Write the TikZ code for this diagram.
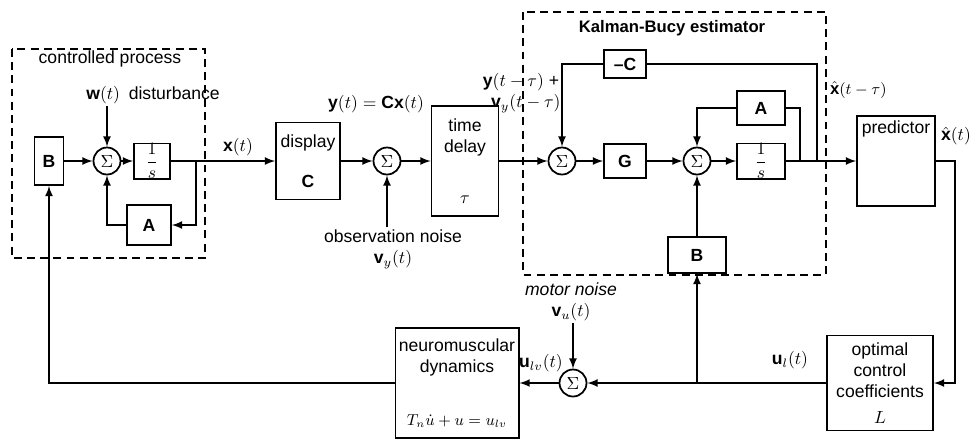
\documentclass[tikz,border=0pt]{standalone}
\usepackage{fontspec}
\setmainfont{Liberation Sans}
\usetikzlibrary{shapes.geometric, positioning, arrows, calc}

\begin{document}
\begin{tikzpicture}[
    x=0.02cm, y=-0.02cm,
    every node/.style={font=\fontsize{10}{12}\selectfont, align=center, inner sep=1pt},
    block/.style={
        rectangle, draw, line width=1pt, inner sep=2pt
    },
    sumnode/.style={
        circle, draw, line width=1pt, minimum size=0.54cm, inner sep=0pt
    },
    arrow/.style={->, >=latex, line width=1pt},
    wire/.style={line width=1pt},
    dashbox/.style={draw, line width=0.8pt, dash pattern=on 4.5pt off 3pt},
]
\useasboundingbox (0,0) rectangle (973,441);

% === CONTROLLED PROCESS ===
\draw[dashbox] (12,49) rectangle (205,258);
\node (proclab) at (110,59) {controlled process};
\node (wlab) at (153,95) {$\mathbf{w}(t)$\enspace disturbance};

\node[block, minimum width=0.58cm, minimum height=0.96cm] (Bp) at (49,161) {\textbf{B}};
\node[sumnode] (sum1) at (107,161) {$\Sigma$};
\node[block, minimum width=0.72cm, minimum height=0.64cm, inner sep=0pt] (invp) at (152,161) {$\displaystyle\frac{1}{s}$};
\node[block, minimum width=0.88cm, minimum height=0.8cm] (Ap) at (149,225) {\textbf{A}};
\coordinate (tapP) at (196,161);

% === DISPLAY AND DELAY ===
\node (xlab) at (238,147) {$\mathbf{x}(t)$};
\node[block, minimum width=1.28cm, minimum height=1.54cm] (disp) at (308,161) {display\\[11pt]\textbf{C}};
\node (ylab) at (376,104) {$\mathbf{y}(t) = \mathbf{C}\mathbf{x}(t)$};
\node[sumnode] (sum2) at (387,161) {$\Sigma$};
\node (obslab) at (393,249) {observation noise\\$\mathbf{v}_y(t)$};
\node[block, minimum width=1.34cm, minimum height=2.2cm] (delay) at (465,161) {time\\delay\\[17pt]$\tau$};
\node (yvlab) at (521,93) {$\mathbf{y}(t-\tau)$ +\\\ \ $\mathbf{v}_y(t-\tau)$};

% === KALMAN-BUCY ESTIMATOR ===
\draw[dashbox] (523,12) rectangle (826,275);
\node[font=\fontsize{9.5}{11}\selectfont\bfseries] (kblab) at (672,28) {Kalman-Bucy estimator};

\node[sumnode] (sum3) at (562,161) {$\Sigma$};
\node[block, minimum width=0.84cm, minimum height=0.56cm] (negC) at (625,64) {\textbf{--C}};
\node[block, minimum width=0.84cm, minimum height=0.68cm] (Gk) at (625,161) {\textbf{G}};
\node[sumnode] (sum4) at (697,161) {$\Sigma$};
\node[block, minimum width=0.96cm, minimum height=0.68cm] (Ak) at (761,108) {\textbf{A}};
\node[block, minimum width=0.96cm, minimum height=0.7cm, inner sep=0pt] (invk) at (761,161) {$\displaystyle\frac{1}{s}$};
\node[block, minimum width=1.16cm, minimum height=0.72cm] (Bk) at (697,255) {\textbf{B}};
\coordinate (tapA) at (800,161);
\coordinate (tapC) at (817,161);

% === PREDICTOR ===
\node[anchor=west, font=\fontsize{9.5}{11}\selectfont] (xhdlab) at (828,90) {$\hat{\mathbf{x}}(t-\tau)$};
\node[block, minimum width=1.56cm, minimum height=1.8cm] (pred) at (896,161) {};
\node[anchor=north, inner sep=3pt] (predlab) at (pred.north) {predictor};
\node[anchor=west] (xhlab) at (939,136) {$\hat{\mathbf{x}}(t)$};
\coordinate (rturn) at (955,161);

% === FEEDBACK PATH ===
\node[block, minimum width=2.12cm, minimum height=1.9cm] (opt) at (880,383)
    {optimal\\control\\coefficients\\[3pt]$L$};
\node (ullab) at (790,360) {$\mathbf{u}_l(t)$};
\coordinate (tapB) at (697,383);
\node[sumnode] (sum5) at (573,383) {$\Sigma$};
\node (mnlab) at (571,302) {\textit{motor noise}\\$\mathbf{v}_u(t)$};
\node (ulvlab) at (541,363) {$\mathbf{u}_{lv}(t)$};
\node[block, minimum width=2.32cm, minimum height=2.2cm] (neuro) at (457,383)
    {neuromuscular\\dynamics\\[18pt]{\fontsize{9}{11}\selectfont$T_n\dot{u}+u=u_{lv}$}};

% === ARROWS ===
% process loop
\draw[arrow] (Bp.east) -- (sum1.west);
\draw[arrow] (sum1.east) -- (invp.west);
\draw[arrow] (sum1 |- wlab.south) -- (sum1.north);
\draw[arrow] (tapP) |- (Ap.east);
\draw[arrow] (Ap.west) -| (sum1.south);

% process -> display -> delay
\draw[arrow] (invp.east) -- (disp.west);
\draw[arrow] (disp.east) -- (sum2.west);
\draw[arrow] (sum2 |- obslab.north) -- (sum2.south);
\draw[arrow] (sum2.east) -- (delay.west);
\draw[arrow] (delay.east) -- (sum3.west);

% estimator
\draw[wire] (tapC) |- (negC.east);
\draw[arrow] (negC.west) -| (sum3.north);
\draw[arrow] (sum3.east) -- (Gk.west);
\draw[arrow] (Gk.east) -- (sum4.west);
\draw[wire] (tapA) |- (Ak.east);
\draw[arrow] (Ak.west) -| (sum4.north);
\draw[arrow] (Bk.north) -- (sum4.south);
\draw[arrow] (sum4.east) -- (invk.west);
\draw[arrow] (invk.east) -- (pred.west);

% predictor -> control -> neuromuscular -> B
\draw[arrow] (pred.east) -- (rturn) |- (opt.east);
\draw[arrow] (opt.west) -- (sum5.east);
\draw[arrow] (tapB) -- (Bk.south);
\draw[arrow] (sum5 |- mnlab.south) -- (sum5.north);
\draw[arrow] (sum5.west) -- (neuro.east);
\draw[arrow] (neuro.west) -| (Bp.south);
\end{tikzpicture}
\end{document}
